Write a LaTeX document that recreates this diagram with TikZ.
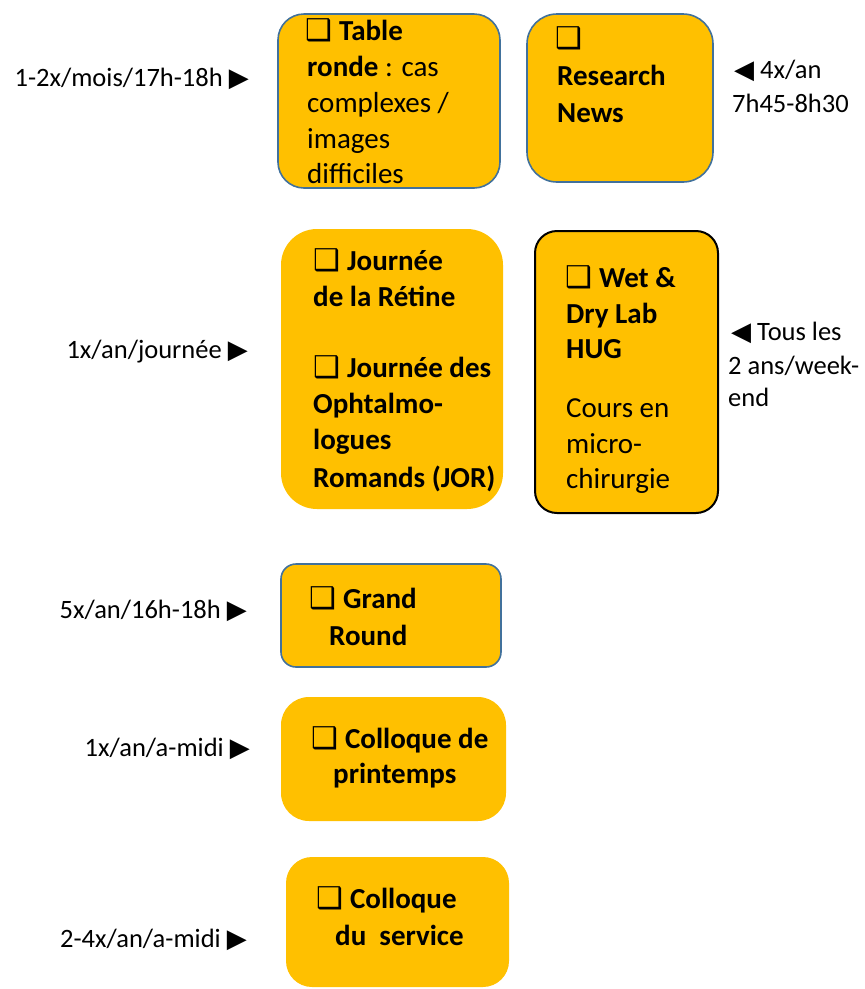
\documentclass[tikz,border=0pt]{standalone}
\usepackage{fontspec}
\setmainfont{Carlito}
\newfontfamily\dejavu{DejaVu Sans}
\definecolor{gold}{HTML}{FFC000}
\definecolor{boxblue}{HTML}{41719C}
\newcommand\cbonly{{\dejavu\fontsize{30}{30}\selectfont ❑}}
\newcommand\cb{\cbonly\hspace{7pt}}
\newcommand\rtri{{\dejavu\fontsize{26}{26}\selectfont ▶}}
\newcommand\ltri{{\dejavu\fontsize{26}{26}\selectfont ◀}}
\tikzset{
  gbox/.style={fill=gold, anchor=north west, inner sep=0pt, outer sep=0pt},
  blueline/.style={draw=boxblue, line width=1.6pt},
  blackline/.style={draw=black, line width=2pt},
  bt/.style={anchor=base west, inner sep=0pt, font=\fontsize{29}{36}\selectfont\bfseries},
  rt/.style={anchor=base west, inner sep=0pt, font=\fontsize{29}{36}\selectfont},
  lab/.style={inner sep=0pt, font=\fontsize{26.5}{34}\selectfont},
}
\begin{document}
\begin{tikzpicture}[x=1pt,y=-1pt]
\useasboundingbox (0,0) rectangle (865,989);
% boxes
\node[gbox, blueline, rounded corners=26pt, minimum width=222pt, minimum height=174pt] (b1) at (278,14) {};
\node[gbox, blueline, rounded corners=30pt, minimum width=186pt, minimum height=168pt] (b2) at (527,14) {};
\node[gbox, rounded corners=36pt, minimum width=222pt, minimum height=280pt] (b3) at (281,229) {};
\node[gbox, blackline, rounded corners=22pt, minimum width=183pt, minimum height=282pt] (b4) at (535,231) {};
\node[gbox, blueline, rounded corners=15pt, minimum width=220pt, minimum height=103pt] (b5) at (281,564) {};
\node[gbox, rounded corners=28pt, minimum width=225pt, minimum height=124pt] (b6) at (281,697) {};
\node[gbox, rounded corners=26pt, minimum width=223pt, minimum height=130pt] (b7) at (286,857) {};
% box 1
\node[bt] (t1a) at (305,40) {\cb Table};
\node[rt] (t1b) at (307,76) {\textbf{ronde} : cas};
\node[rt] (t1c) at (307,112) {complexes /};
\node[rt] (t1d) at (307,148) {images};
\node[rt] (t1e) at (307,183) {difficiles};
% box 2
\node[bt] (t2a) at (555,48) {\cbonly};
\node[bt] (t2b) at (557,85) {Research};
\node[bt] (t2c) at (557,122) {News};
% box 3
\node[bt] (t3a) at (313,270) {\cb Journée};
\node[bt] (t3b) at (313,306) {de la Rétine};
\node[bt] (t3c) at (313,377) {\cb Journée des};
\node[bt] (t3d) at (313,413) {Ophtalmo-};
\node[bt] (t3e) at (313,449) {logues};
\node[bt] (t3f) at (313,487) {Romands (JOR)};
% box 4
\node[bt] (t4a) at (565,287) {\cb Wet \&};
\node[bt] (t4b) at (566,323) {Dry Lab};
\node[bt] (t4c) at (566,358) {HUG};
\node[rt] (t4d) at (566,417) {Cours en};
\node[rt] (t4e) at (566,453) {micro-};
\node[rt] (t4f) at (566,488) {chirurgie};
% box 5
\node[bt] (t5a) at (309,608) {\cb Grand};
\node[bt] (t5b) at (329,645) {Round};
% box 6
\node[bt] (t6a) at (311,748) {\cb Colloque de};
\node[bt] (t6b) at (333,783) {printemps};
% box 7
\node[bt] (t7a) at (316,908) {\cb Colloque};
\node[bt] (t7b) at (335,945) {du~~service};
% left labels
\node[lab, anchor=base east] (l1) at (249,86) {1-2x/mois/17h-18h \rtri};
\node[lab, anchor=base east] (l2) at (248,358) {1x/an/journée \rtri};
\node[lab, anchor=base east] (l3) at (247,618) {5x/an/16h-18h \rtri};
\node[lab, anchor=base east] (l4) at (250,756) {1x/an/a-midi \rtri};
\node[lab, anchor=base east] (l5) at (247,947) {2-4x/an/a-midi \rtri};
% right labels
\node[lab, anchor=base west] (r1a) at (734,78) {\ltri\ 4x/an};
\node[lab, anchor=base west] (r1b) at (732,112) {7h45-8h30};
\node[lab, anchor=base west] (r2a) at (731,340) {\ltri\ Tous les};
\node[lab, anchor=base west] (r2b) at (728,374) {2 ans/week-};
\node[lab, anchor=base west] (r2c) at (728,406) {end};
\end{tikzpicture}
\end{document}
